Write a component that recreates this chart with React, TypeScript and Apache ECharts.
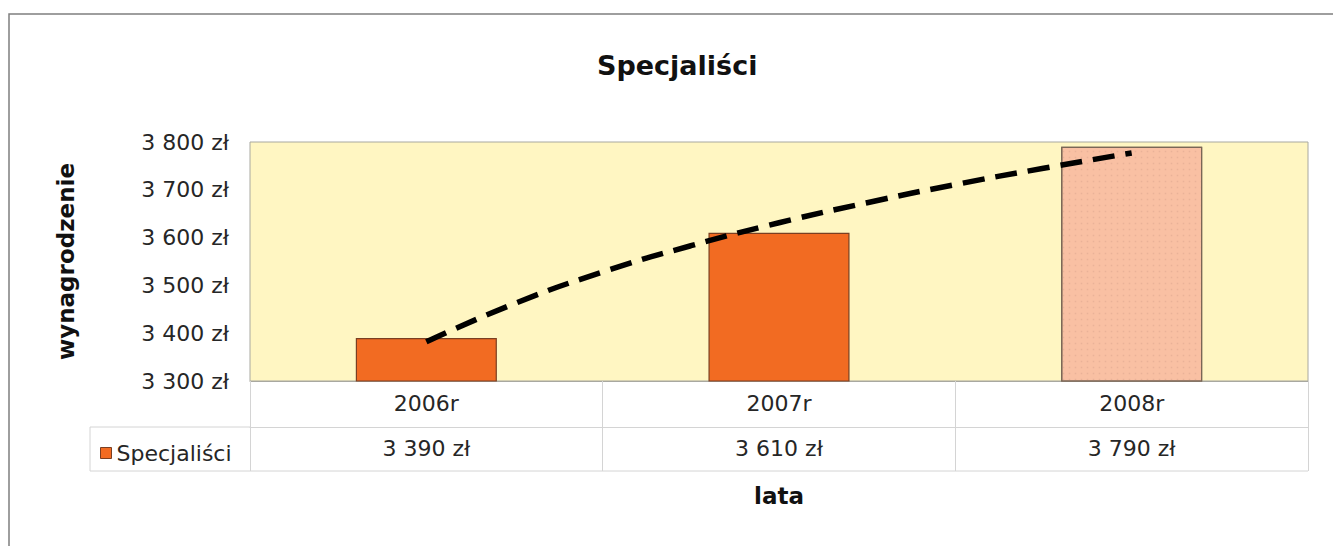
import React, { useEffect, useRef } from "react";
import * as echarts from "echarts";

const categories = ["2006r", "2007r", "2008r"];
const seriesName = "Specjaliści";
const values = [3390, 3610, 3790];
// logarithmic trend line (position in category units, value)
const trendPos = [0, 0.25, 0.5, 0.75, 1, 1.25, 1.5, 1.75, 2];
const trendValues = [3382, 3462, 3528, 3583, 3631, 3673, 3711, 3745, 3777];
const yMin = 3300;
const yMax = 3800;
const yStep = 100;

const FONT = "DejaVu Sans";

function fmt(v: number): string {
  return String(v).replace(/\B(?=(\d{3})+(?!\d))/g, " ") + " zł";
}

export default function App() {
  const ref = useRef<HTMLDivElement>(null);
  useEffect(() => {
    document.body.style.margin = "0";
    const chart = echarts.init(ref.current!, null, { renderer: "svg" });
    const orange = "#F26B22";
    const tableLine = "#d4d4d4";
    const textColor = "#262626";
    const option: any = {
      animation: false,
      backgroundColor: "#ffffff",
      textStyle: { fontFamily: FONT },
      title: {
        text: "Specjaliści",
        left: 592,
        top: 47,
        textStyle: { fontFamily: FONT, fontSize: 27, fontWeight: "bold", color: "#111" },
      },
      legend: {
        left: 95,
        top: 437,
        data: [
          {
            name: seriesName,
            icon: "rect",
            itemStyle: { color: orange, borderColor: "#7a3f22", borderWidth: 1 },
          },
        ],
        itemWidth: 11,
        itemHeight: 11,
        itemGap: 6,
        textStyle: { fontFamily: FONT, fontSize: 22, color: textColor },
      },
      grid: {
        left: 250,
        right: 25,
        top: 142,
        bottom: 165,
        show: true,
        backgroundColor: "#FFF6C2",
        borderColor: "#a8a8a0",
        borderWidth: 1,
      },
      xAxis: [
        {
          type: "category",
          data: categories,
          position: "bottom",
          axisLine: { show: true, lineStyle: { color: "#a8a8a0", width: 1 } },
          axisTick: { show: true, length: 46, lineStyle: { color: tableLine } },
          axisLabel: { fontFamily: FONT, fontSize: 22, color: textColor, margin: 11 },
          splitLine: { show: false },
        },
        {
          type: "category",
          data: categories,
          position: "bottom",
          offset: 46,
          axisLine: { show: true, lineStyle: { color: tableLine, width: 1 } },
          axisTick: { show: true, length: 44, lineStyle: { color: tableLine } },
          axisLabel: {
            fontFamily: FONT,
            fontSize: 22,
            color: textColor,
            margin: 10,
            formatter: (_v: string, i: number) => fmt(values[i]),
          },
          name: "lata",
          nameLocation: "middle",
          nameGap: 57,
          nameTextStyle: { fontFamily: FONT, fontSize: 23, fontWeight: "bold", color: "#111" },
          splitLine: { show: false },
        },
        {
          type: "value",
          min: -0.5,
          max: 2.5,
          show: false,
          splitLine: { show: false },
        },
      ],
      yAxis: {
        type: "value",
        min: yMin,
        max: yMax,
        interval: yStep,
        axisLine: { show: false },
        axisTick: { show: false },
        splitLine: { show: false },
        axisLabel: { fontFamily: FONT, fontSize: 22, color: textColor, margin: 21, formatter: (v: number) => fmt(v) },
        name: "wynagrodzenie",
        nameLocation: "middle",
        nameRotate: 90,
        nameGap: 173,
        nameTextStyle: { fontFamily: FONT, fontSize: 23, fontWeight: "bold", color: "#111" },
      },
      series: [
        {
          name: seriesName,
          type: "bar",
          xAxisIndex: 0,
          yAxisIndex: 0,
          barWidth: "40%",
          itemStyle: { color: orange, borderColor: "#7a3f22", borderWidth: 1.2 },
          data: values.map((v, i) =>
            i === 2
              ? {
                  value: v,
                  itemStyle: {
                    color: "#F9C0A3",
                    borderColor: "#7a6656",
                    borderWidth: 1.2,
                    decal: {
                      symbol: "rect",
                      symbolSize: 0.5,
                      color: "rgba(190,140,120,0.28)",
                      dashArrayX: [[3, 3]],
                      dashArrayY: [3, 3],
                      rotation: 0,
                    },
                  },
                }
              : v
          ),
        },
        {
          name: "trend",
          type: "line",
          xAxisIndex: 2,
          yAxisIndex: 0,
          smooth: true,
          symbol: "none",
          silent: true,
          lineStyle: { color: "#000", width: 5.5, type: [22, 11], cap: "butt" },
          data: trendPos.map((p, i) => [p, trendValues[i]]),
          z: 5,
        },
      ],
      graphic: [
        {
          type: "rect",
          shape: { x: 9, y: 14, width: 1400, height: 600 },
          style: { fill: "none", stroke: "#7f7f7f", lineWidth: 1.5 },
          silent: true,
        },
        {
          type: "line",
          shape: { x1: 90, y1: 427, x2: 250, y2: 427 },
          style: { stroke: tableLine, lineWidth: 1 },
          silent: true,
        },
        {
          type: "line",
          shape: { x1: 90, y1: 427, x2: 90, y2: 471 },
          style: { stroke: tableLine, lineWidth: 1 },
          silent: true,
        },
        {
          type: "line",
          shape: { x1: 90, y1: 471, x2: 1308, y2: 471 },
          style: { stroke: tableLine, lineWidth: 1 },
          silent: true,
        },
      ],
    };
    chart.setOption(option);
    return () => chart.dispose();
  }, []);
  return <div ref={ref} style={{ width: 1333, height: 546 }} />;
}
